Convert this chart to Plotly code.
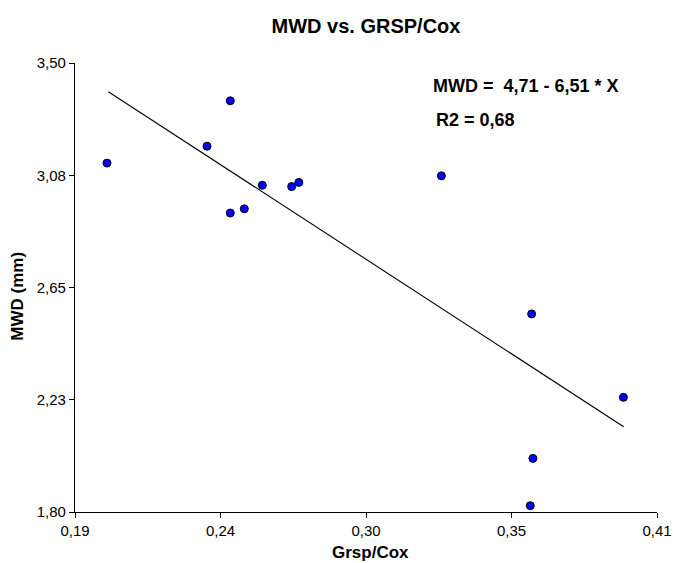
import plotly.graph_objects as go

# Data
grsp_cox = [0.2021, 0.2399, 0.2487, 0.2487, 0.2540, 0.2608, 0.2719, 0.2746,
            0.3285, 0.3626, 0.3973, 0.3631, 0.3621]
mwd = [3.121, 3.185, 3.357, 2.932, 2.948, 3.037, 3.032, 3.048,
       3.073, 2.550, 2.234, 2.003, 1.824]

# Regression line endpoints (MWD = 4,71 - 6,51 * X)
fit_x = [0.2026, 0.3974]
fit_y = [3.391, 2.123]

x_tickvals = [0.19, 0.245, 0.30, 0.355, 0.41]
x_ticktext = ["0,19", "0,24", "0,30", "0,35", "0,41"]
y_tickvals = [1.80, 2.225, 2.65, 3.075, 3.50]
y_ticktext = ["1,80", "2,23", "2,65", "3,08", "3,50"]

FONT = "Liberation Sans, Arial, sans-serif"

fig = go.Figure()
fig.add_trace(go.Scatter(
    x=fit_x, y=fit_y, mode="lines",
    line=dict(color="black", width=1.1),
    showlegend=False, hoverinfo="skip"))
fig.add_trace(go.Scatter(
    x=grsp_cox, y=mwd, mode="markers",
    marker=dict(color="#0000FF", size=8, line=dict(color="black", width=1)),
    showlegend=False))

axis_common = dict(
    showline=True, linecolor="black", linewidth=1.2,
    ticks="outside", ticklen=5, tickwidth=1.2, tickcolor="black",
    showgrid=False, zeroline=False, mirror=False, automargin=False,
    tickfont=dict(family=FONT, size=15, color="black"),
)

fig.update_layout(
    width=673, height=563,
    margin=dict(l=75, r=16, t=63, b=51),
    paper_bgcolor="white", plot_bgcolor="white",
    title=dict(text="<b>MWD vs. GRSP/Cox</b>", x=(366) / 673, xanchor="center",
               y=1 - 26 / 563, yanchor="middle", automargin=False,
               font=dict(family=FONT, size=20, color="black")),
    xaxis=dict(range=[0.19, 0.41], tickvals=x_tickvals, ticktext=x_ticktext,
               **axis_common),
    yaxis=dict(range=[1.80, 3.50], tickvals=y_tickvals, ticktext=y_ticktext,
               **axis_common),
    annotations=[
        dict(text="<b>Grsp/Cox</b>", xref="paper", yref="paper",
             x=(370.5 - 75) / 582, y=(512 - 563) / 449, xanchor="center", yanchor="bottom",
             borderpad=0,
             showarrow=False, font=dict(family=FONT, size=17, color="black")),
        dict(text="<b>MWD (mm)</b>", xref="paper", yref="paper",
             x=(18 - 75) / 582, y=(512 - 296.7) / 449, xanchor="center", yanchor="middle",
             textangle=-90,
             showarrow=False, font=dict(family=FONT, size=17, color="black")),
        dict(text="<b>MWD =\u00a0 4,71 - 6,51 * X</b>", xref="paper", yref="paper",
             x=(431 - 75) / 582, y=(512 - 85.5) / 449, xanchor="left", yanchor="middle",
             showarrow=False, font=dict(family=FONT, size=18, color="black")),
        dict(text="<b>R2 = 0,68</b>", xref="paper", yref="paper",
             x=(434 - 75) / 582, y=(512 - 119.5) / 449, xanchor="left", yanchor="middle",
             showarrow=False, font=dict(family=FONT, size=18, color="black")),
    ],
)

fig.write_html("out.html",
               config={"displayModeBar": False},
               post_script="document.body.style.margin='0';document.body.style.overflow='hidden';")
